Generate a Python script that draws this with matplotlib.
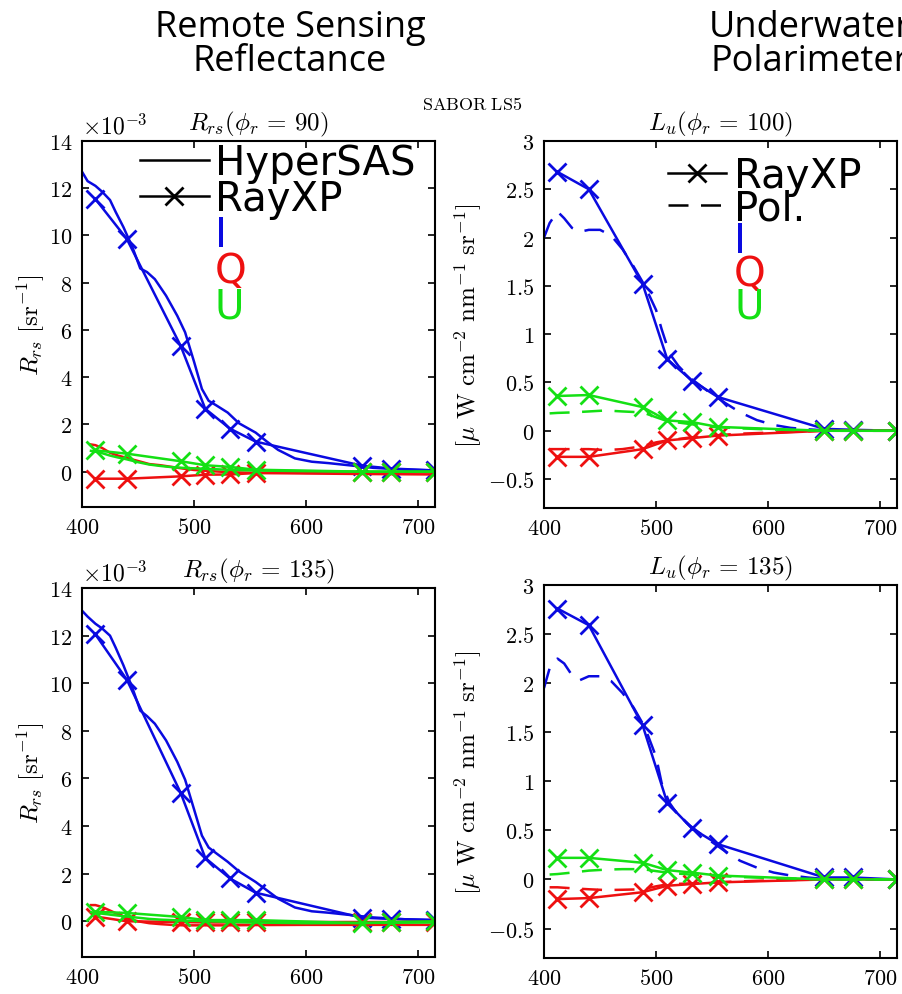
import numpy as np
import matplotlib.pyplot as plt
from matplotlib.lines import Line2D
from matplotlib.ticker import FuncFormatter

plt.rcParams['mathtext.fontset'] = 'cm'

BLUE = '#0a0ae0'
RED = '#ee1010'
GREEN = '#14e014'

# RayXP model bands (nm)
rayxp_wl = [412, 440, 488, 510, 532, 555, 650, 676, 715]

# HyperSAS spectra, I component (nm)
hs_wl = [400, 405, 412, 418, 425, 430, 437, 445, 452, 458, 465, 475, 485, 492, 500,
         507, 513, 520, 530, 540, 555, 565, 575, 590, 605, 620, 640, 660, 690, 715]
# HyperSAS Q/U wavelengths
hs_qu_wl = [408, 412, 418, 425, 432, 440, 450, 460, 470, 480, 490, 500, 515, 530,
            550, 600, 650, 715]

# Rrs, phi_r = 90 (x1e-3 sr^-1)
rrs90_ray_i = [11.54, 9.85, 5.33, 2.66, 1.82, 1.27, 0.25, 0.13, 0.05]
rrs90_ray_q = [-0.3, -0.3, -0.2, -0.13, -0.12, -0.06, -0.03, -0.03, -0.03]
rrs90_ray_u = [0.9, 0.76, 0.44, 0.27, 0.2, 0.08, 0.0, 0.0, 0.0]
rrs90_hs_i = [12.7, 12.3, 12.1, 11.85, 11.5, 11.0, 10.35, 9.5, 8.6, 8.45, 8.15, 7.45, 6.6,
              5.9, 4.65, 3.5, 3.0, 2.8, 2.5, 2.05, 1.65, 1.27, 0.92, 0.56, 0.42, 0.36,
              0.26, 0.16, 0.08, 0.05]
rrs90_hs_q = [1.15, 1.12, 1.0, 0.8, 0.68, 0.58, 0.45, 0.32, 0.27, 0.2, 0.13, 0.07, 0.02,
              -0.02, -0.05, -0.08, -0.1, -0.12]
rrs90_hs_u = [0.88, 0.85, 0.78, 0.68, 0.6, 0.52, 0.4, 0.3, 0.24, 0.19, 0.16, 0.14, 0.11,
              0.08, 0.05, 0.02, 0.0, 0.0]

# Rrs, phi_r = 135 (x1e-3 sr^-1)
rrs135_ray_i = [12.05, 10.15, 5.4, 2.66, 1.8, 1.2, 0.15, 0.1, 0.05]
rrs135_ray_q = [0.2, 0.0, -0.03, -0.05, -0.05, -0.03, -0.03, -0.03, -0.02]
rrs135_ray_u = [0.4, 0.35, 0.18, 0.05, 0.05, 0.05, -0.08, -0.03, 0.0]
rrs135_hs_i = [13.05, 12.8, 12.5, 12.3, 12.0, 11.5, 10.75, 9.8, 8.85, 8.62, 8.3, 7.6, 6.7,
               5.95, 4.7, 3.6, 3.1, 2.85, 2.5, 2.1, 1.65, 1.3, 0.95, 0.58, 0.42, 0.36,
               0.26, 0.16, 0.08, 0.05]
rrs135_hs_q = [0.68, 0.68, 0.6, 0.45, 0.3, 0.13, 0.0, -0.08, -0.12, -0.15, -0.17, -0.17,
               -0.17, -0.17, -0.16, -0.15, -0.15, -0.15]
rrs135_hs_u = [0.38, 0.35, 0.32, 0.28, 0.24, 0.2, 0.15, 0.1, 0.07, 0.05, 0.03, 0.02, 0.0,
               -0.02, -0.05, -0.08, -0.07, -0.05]

# Polarimeter wavelengths (nm)
pol_wl = [400, 405, 412, 418, 425, 432, 440, 450, 460, 470, 480, 490, 500, 505, 512, 520,
          530, 545, 560, 575, 590, 605, 620, 635, 650, 680, 715]
pol_qu_wl = [405, 412, 425, 440, 455, 470, 488, 500, 510, 530, 550, 575, 600, 650, 715]

# Lu, phi_r = 100 (uW cm^-2 nm^-1 sr^-1)
lu100_ray_i = [2.68, 2.50, 1.52, 0.74, 0.52, 0.35, 0.02, 0.01, 0.0]
lu100_ray_q = [-0.27, -0.27, -0.19, -0.1, -0.076, -0.05, 0.0, 0.0, 0.0]
lu100_ray_u = [0.36, 0.37, 0.245, 0.107, 0.09, 0.04, 0.0, 0.0, 0.0]
lu100_pol_i = [2.0, 2.15, 2.27, 2.2, 2.1, 2.06, 2.08, 2.08, 2.02, 1.88, 1.7, 1.5, 1.25,
               1.05, 0.8, 0.67, 0.55, 0.42, 0.3, 0.19, 0.11, 0.06, 0.03, 0.015, 0.005, 0.0, 0.0]
lu100_pol_q = [-0.19, -0.19, -0.19, -0.19, -0.2, -0.19, -0.16, -0.12, -0.1, -0.07, -0.05,
               -0.03, -0.02, 0.0, 0.0]
lu100_pol_u = [0.18, 0.185, 0.19, 0.2, 0.21, 0.2, 0.19, 0.14, 0.1, 0.07, 0.04, 0.025,
               0.014, 0.0, 0.0]

# Lu, phi_r = 135
lu135_ray_i = [2.76, 2.59, 1.57, 0.78, 0.52, 0.36, 0.02, 0.02, 0.0]
lu135_ray_q = [-0.2, -0.19, -0.13, -0.064, -0.047, -0.03, 0.0, 0.0, 0.0]
lu135_ray_u = [0.22, 0.22, 0.17, 0.095, 0.07, 0.04, 0.0, 0.0, 0.0]
lu135_pol_i = [1.95, 2.15, 2.25, 2.2, 2.08, 2.03, 2.07, 2.07, 2.02, 1.9, 1.75, 1.55, 1.25,
               0.98, 0.78, 0.65, 0.55, 0.42, 0.3, 0.19, 0.12, 0.07, 0.04, 0.02, 0.005, 0.0, 0.0]
lu135_pol_q = [-0.08, -0.08, -0.09, -0.1, -0.108, -0.105, -0.1, -0.07, -0.05, -0.04, -0.03,
               -0.02, -0.01, 0.0, 0.0]
lu135_pol_u = [0.05, 0.055, 0.07, 0.09, 0.1, 0.105, 0.105, 0.085, 0.07, 0.05, 0.04, 0.025,
               0.015, 0.0, 0.0]

LW = 1.8
MARK = dict(marker='x', markersize=13, markeredgewidth=2)
DASH = (8, 5)
LEG_FONT = {'family': 'DejaVu Sans', 'size': 29}


def style_axes(ax, ylim, yticks, title):
    ax.set_xlim(400, 715)
    ax.set_ylim(*ylim)
    ax.set_xticks([400, 500, 600, 700])
    ax.set_yticks(yticks)
    fmt = FuncFormatter(lambda v, p: '$%g$' % v)
    ax.xaxis.set_major_formatter(fmt)
    ax.yaxis.set_major_formatter(fmt)
    ax.tick_params(direction='in', length=5, width=1.2, top=True, right=True,
                   labelsize=16, pad=7)
    for s in ax.spines.values():
        s.set_linewidth(1.5)
    ax.set_title(title, fontsize=18, pad=8)


def blank():
    return Line2D([], [], lw=0)


def rrs_panel(ax, ray, hs, title, legend=False):
    ray_i, ray_q, ray_u = ray
    hs_i, hs_q, hs_u = hs
    ax.plot(hs_wl, hs_i, color=BLUE, lw=LW)
    ax.plot(rayxp_wl, ray_i, color=BLUE, lw=LW, **MARK)
    ax.plot(hs_qu_wl, hs_q, color=RED, lw=LW)
    ax.plot(rayxp_wl, ray_q, color=RED, lw=LW, **MARK)
    ax.plot(hs_qu_wl, hs_u, color=GREEN, lw=LW)
    ax.plot(rayxp_wl, ray_u, color=GREEN, lw=LW, **MARK)
    style_axes(ax, (-1.5, 14), np.arange(0, 15, 2), title)
    ax.set_ylabel(r'$R_{rs}\ [\mathrm{sr}^{-1}]$', fontsize=18)
    ax.yaxis.set_label_coords(-0.10, 0.5)
    ax.text(0.0, 1.008, r'$\times 10^{-3}$', transform=ax.transAxes, fontsize=17,
            ha='left', va='bottom')
    if legend:
        handles = [Line2D([], [], color='k', lw=LW),
                   Line2D([], [], color='k', lw=LW, **MARK),
                   blank(), blank(), blank()]
        leg = ax.legend(handles, ['HyperSAS', 'RayXP', 'I', 'Q', 'U'], loc='upper left',
                        bbox_to_anchor=(0.165, 0.995), frameon=False, borderpad=0,
                        borderaxespad=0, handlelength=1.7, handletextpad=0.15,
                        labelspacing=-0.1, numpoints=1, prop=LEG_FONT)
        for txt, c in zip(leg.get_texts()[2:], [BLUE, RED, GREEN]):
            txt.set_color(c)


def lu_panel(ax, ray, pol, title, legend=False):
    ray_i, ray_q, ray_u = ray
    pol_i, pol_q, pol_u = pol
    ax.plot(pol_wl, pol_i, color=BLUE, lw=LW, dashes=DASH)
    ax.plot(rayxp_wl, ray_i, color=BLUE, lw=LW, **MARK)
    ax.plot(pol_qu_wl, pol_q, color=RED, lw=LW, dashes=DASH)
    ax.plot(rayxp_wl, ray_q, color=RED, lw=LW, **MARK)
    ax.plot(pol_qu_wl, pol_u, color=GREEN, lw=LW, dashes=DASH)
    ax.plot(rayxp_wl, ray_u, color=GREEN, lw=LW, **MARK)
    style_axes(ax, (-0.8, 3), np.arange(-0.5, 3.01, 0.5), title)
    ax.set_ylabel(r'$[\mu\ \mathrm{W\ cm^{-2}\ nm^{-1}\ sr^{-1}}]$', fontsize=18)
    ax.yaxis.set_label_coords(-0.17, 0.5)
    if legend:
        handles = [Line2D([], [], color='k', lw=LW, **MARK),
                   Line2D([], [], color='k', lw=LW, dashes=DASH),
                   blank(), blank(), blank()]
        leg = ax.legend(handles, ['RayXP', 'Pol.', 'I', 'Q', 'U'], loc='upper left',
                        bbox_to_anchor=(0.35, 0.96), frameon=False, borderpad=0,
                        borderaxespad=0, handlelength=1.45, handletextpad=0.2,
                        labelspacing=-0.18, numpoints=1, prop=LEG_FONT)
        for txt, c in zip(leg.get_texts()[2:], [BLUE, RED, GREEN]):
            txt.set_color(c)


fig = plt.figure(figsize=(9.02, 9.95), dpi=100)
ax_tl = fig.add_axes([0.0909, 0.4894, 0.3914, 0.3679])
ax_tr = fig.add_axes([0.6031, 0.4884, 0.3914, 0.3689])
ax_bl = fig.add_axes([0.0909, 0.0372, 0.3914, 0.3708])
ax_br = fig.add_axes([0.6031, 0.0362, 0.3914, 0.3749])

rrs_panel(ax_tl, (rrs90_ray_i, rrs90_ray_q, rrs90_ray_u),
          (rrs90_hs_i, rrs90_hs_q, rrs90_hs_u), r'$R_{rs}(\phi_r\,=\,90)$', legend=True)
rrs_panel(ax_bl, (rrs135_ray_i, rrs135_ray_q, rrs135_ray_u),
          (rrs135_hs_i, rrs135_hs_q, rrs135_hs_u), r'$R_{rs}(\phi_r\,=\,135)$')
lu_panel(ax_tr, (lu100_ray_i, lu100_ray_q, lu100_ray_u),
         (lu100_pol_i, lu100_pol_q, lu100_pol_u), r'$L_u(\phi_r\,=\,100)$', legend=True)
lu_panel(ax_br, (lu135_ray_i, lu135_ray_q, lu135_ray_u),
         (lu135_pol_i, lu135_pol_q, lu135_pol_u), r'$L_u(\phi_r\,=\,135)$')

fig.text(0.523, 0.894, r'$\mathrm{SABOR\ LS5}$', fontsize=13, ha='center', va='center')

# section headers
fig.text(290 / 902, 1 - 45 / 995, 'Remote Sensing\nReflectance', family='Open Sans',
         fontsize=26, ha='center', va='center', linespacing=0.95)
fig.text(810 / 902, 1 - 45 / 995, 'Underwater\nPolarimeter', family='Open Sans',
         fontsize=26, ha='center', va='center', linespacing=0.95)

fig.savefig('out.png', dpi=100)
